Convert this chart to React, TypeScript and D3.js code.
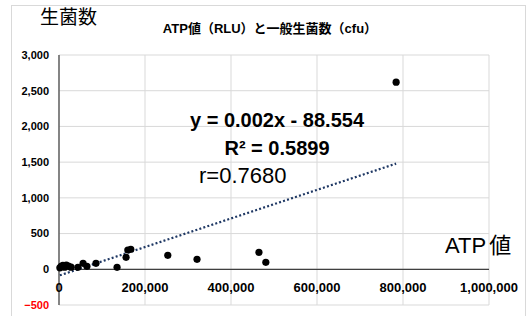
import React from "react";
import * as d3 from "d3";

// ATP値(RLU) と 一般生菌数(cfu)
const atp = [2000, 5000, 9000, 13000, 17000, 22000, 28000, 44000, 56000, 65000, 86000, 135000, 156000, 160000, 167000, 253000, 321000, 465000, 481000, 784000];
const cfu = [20, 40, 55, 30, 60, 45, 30, 28, 84, 42, 84, 28, 168, 270, 280, 196, 140, 238, 98, 2620];

const xTicks = [0, 200000, 400000, 600000, 800000, 1000000];
const yTicks = [-500, 0, 500, 1000, 1500, 2000, 2500, 3000];

const slope = 0.002;
const intercept = -88.554;

const W = 531;
const H = 316;
const FONT = "'Liberation Sans', Arial, 'Noto Sans CJK JP', sans-serif";

export default function App() {
  const x = d3.scaleLinear().domain([0, 1000000]).range([59, 489]);
  const y = d3.scaleLinear().domain([-500, 3000]).range([305, 55]);
  const fmt = d3.format(",");

  const [x0, x1] = d3.extent(atp) as [number, number];
  const trend = d3.line<number>()
    .x(d => x(d))
    .y(d => y(slope * d + intercept));

  return (
    <svg width={W} height={H} style={{ position: "absolute", left: 0, top: 0 }} fontFamily={FONT}>
      <rect x={0} y={0} width={W} height={H} fill="#fff" />
      <rect x={11.5} y={5.5} width={514} height={320} fill="none" stroke="#d9d9d9" />

      {/* grid */}
      {yTicks.map(t => (
        <line key={`gy${t}`} x1={59} x2={489} y1={y(t)} y2={y(t)} stroke="#d9d9d9" strokeWidth={1} />
      ))}
      {xTicks.map(t => (
        <line key={`gx${t}`} x1={x(t)} x2={x(t)} y1={y(3000)} y2={y(-500)} stroke="#d9d9d9" strokeWidth={1} />
      ))}

      {/* axes */}
      <line x1={x(0)} x2={x(0)} y1={y(3000)} y2={y(-500)} stroke="#404040" strokeWidth={1.2} />
      <line x1={x(0)} x2={x(1000000)} y1={y(0)} y2={y(0)} stroke="#404040" strokeWidth={1.2} />

      {/* tick labels */}
      {yTicks.map(t => (
        <text key={`ly${t}`} x={49} y={y(t)} dy="0.35em" textAnchor="end" fontSize={11} fontWeight="bold"
          fill={t < 0 ? "#ff0000" : "#000"}>
          {fmt(t)}
        </text>
      ))}
      {xTicks.map(t => (
        <text key={`lx${t}`} x={x(t)} y={287} dy="0.35em" textAnchor="middle" fontSize={13} fontWeight="bold" fill="#000">
          {fmt(t)}
        </text>
      ))}

      {/* trendline */}
      <path d={trend([x0, x1]) ?? ""} fill="none" stroke="#1f3864" strokeWidth={2.2} strokeDasharray="2 2.2" />

      {/* points */}
      {atp.map((v, i) => (
        <circle key={i} cx={x(v)} cy={y(cfu[i])} r={3.6} fill="#000" />
      ))}

      {/* titles */}
      <text x={270} y={28} dy="0.35em" textAnchor="middle" fontSize={13} fontWeight="bold" fill="#000">
        ATP値（RLU）と一般生菌数（cfu）
      </text>
      <text x={40} y={17} dy="0.35em" fontSize={19} fill="#000">生菌数</text>
      <text x={445} y={245} dy="0.35em" fontSize={22} fill="#000">
        ATP<tspan dx={3}>値</tspan>
      </text>

      {/* regression labels */}
      <text x={277} y={120} dy="0.35em" textAnchor="middle" fontSize={20} fontWeight="bold" fill="#000">
        y = 0.002x - 88.554
      </text>
      <text x={277} y={148} dy="0.35em" textAnchor="middle" fontSize={20} fontWeight="bold" fill="#000">
        R² = 0.5899
      </text>
      <text x={199} y={175} dy="0.35em" fontSize={22} fill="#000">r=0.7680</text>
    </svg>
  );
}
